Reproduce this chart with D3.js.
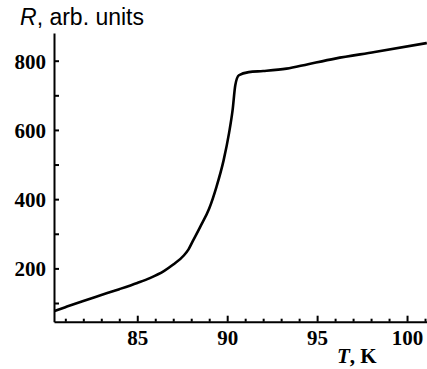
<!DOCTYPE html>
<html>
<head>
    <meta charset="utf-8">
    <title>R(T)</title>
    <style>
        body { margin: 0; background: #fff; }
        .axis path, .axis line { stroke: #000; stroke-width: 2; }
        .axis text { font-family: "Liberation Serif", serif; font-size: 21px; font-weight: bold; fill: #000; }
        .curve { fill: none; stroke: #000; stroke-width: 2.6; }
    </style>
</head>
<body>
    <svg width="427" height="369"></svg>
    <script src="https://cdnjs.cloudflare.com/ajax/libs/d3/7.8.5/d3.min.js"></script>
    <script>
        // temperature (K) and resistance (arb. units)
        const temps = [80.4, 81, 82, 83, 84, 85, 85.7, 86.5, 87, 87.6, 87.85, 88.1, 88.5, 89, 89.4, 89.8,
            90.1, 90.3, 90.45, 90.65, 91.2, 92, 93.3, 94.5, 96, 98.2, 101.1];
        const resist = [77, 88, 106, 123, 140, 158, 172, 193, 211, 238, 255, 280, 320, 373, 435, 512,
            590, 657, 729, 758, 767, 770, 777, 790, 806, 825, 851];
        const xTicks = [85, 90, 95, 100];
        const xMinor = [81, 82, 83, 84, 86, 87, 88, 89, 91, 92, 93, 94, 96, 97, 98, 99, 101];
        const yTicks = [200, 400, 600, 800];
        const yMinor = [100, 300, 500, 700];

        const svg = d3.select('svg');
        const x = d3.scaleLinear().domain([80.37, 101.11]).range([54, 427]);
        const y = d3.scaleLinear().domain([46, 880]).range([321.7, 33]);

        // eje horizontal, marcas hacia dentro
        svg.append('g').attr('class', 'axis')
            .attr('transform', 'translate(0,' + y(46) + ')')
            .call(d3.axisBottom(x).tickValues(xTicks).tickSizeInner(-6).tickSizeOuter(0).tickPadding(8));
        svg.append('g').attr('class', 'axis')
            .attr('transform', 'translate(0,' + y(46) + ')')
            .call(d3.axisBottom(x).tickValues(xMinor).tickSizeInner(-3).tickSizeOuter(0).tickFormat(''))
            .call(g => g.select('.domain').remove());

        // eje vertical
        svg.append('g').attr('class', 'axis')
            .attr('transform', 'translate(' + x(80.37) + ',0)')
            .call(d3.axisLeft(y).tickValues(yTicks).tickSizeInner(-5).tickSizeOuter(0).tickPadding(8))
            .call(g => g.selectAll('text').attr('dy', '0.36em'));
        svg.append('g').attr('class', 'axis')
            .attr('transform', 'translate(' + x(80.37) + ',0)')
            .call(d3.axisLeft(y).tickValues(yMinor).tickSizeInner(-5).tickSizeOuter(0).tickFormat(''))
            .call(g => g.select('.domain').remove());

        const pts = temps.map((t, i) => [t, resist[i]]);
        svg.append('path').attr('class', 'curve')
            .attr('d', d3.line().x(d => x(d[0])).y(d => y(d[1])).curve(d3.curveMonotoneX)(pts));

        // etiquetas de los ejes
        const yl = svg.append('text').attr('x', 20).attr('y', 25)
            .style('font-family', 'Liberation Sans, Arial, sans-serif').style('font-size', '23px');
        yl.append('tspan').style('font-style', 'italic').text('R');
        yl.append('tspan').text(', arb. units');

        const xl = svg.append('text').attr('x', 337).attr('y', 363)
            .style('font-family', 'Liberation Serif, serif').style('font-size', '21px').style('font-weight', 'bold');
        xl.append('tspan').style('font-style', 'italic').text('T');
        xl.append('tspan').text(', K');
    </script>
</body>
</html>
